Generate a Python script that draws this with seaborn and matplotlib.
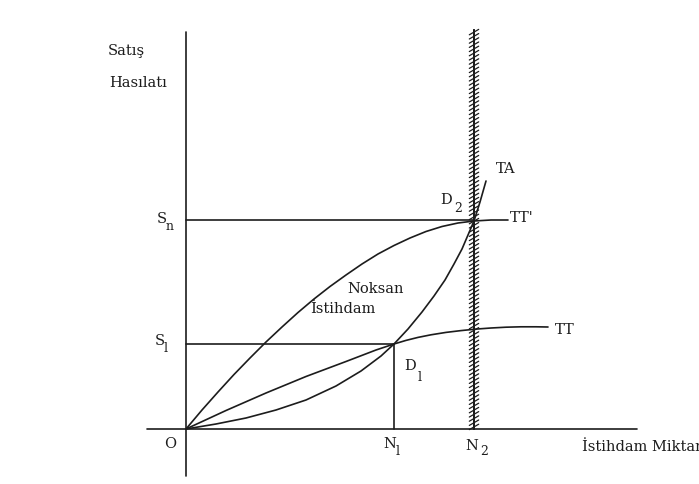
import matplotlib
matplotlib.use("Agg")
import matplotlib.pyplot as plt
import matplotlib.patheffects as pe
import seaborn as sns

# Diagram values (units: px from origin O)
n1, n2 = 208, 288          # N1, N2 employment levels
s1, sn = 85, 209           # S1, Sn revenue levels

# upper curve ending at TT'
tt2_x = [0, 16, 32, 48, 64, 80, 96, 112, 128, 144, 160, 176, 192, 208, 224, 240,
         256, 272, 288, 305, 322]
tt2_y = [0, 19, 37, 54.5, 71, 87, 102, 116.5, 130, 142.5, 154, 165, 175, 183.5,
         191, 197.5, 202.5, 206, 208, 209, 209]

# TT curve (through D1, flattening out)
tt_x = [0, 40, 80, 120, 160, 190, 208, 220, 232, 245, 260, 275, 290, 305, 320,
        335, 350, 362]
tt_y = [0, 18.5, 36, 52.5, 67.5, 79, 85, 88.6, 91.6, 94.2, 96.6, 98.4, 99.9,
        101, 101.8, 102.2, 102.2, 102]

# TA curve (convex, through D1 and D2)
ta_x = [0, 30, 60, 90, 120, 150, 175, 195, 208, 222, 236, 248, 259, 268, 276,
        282, 288, 294, 300]
ta_y = [0, 5, 11, 19, 29, 43, 58, 73, 85, 100, 117, 133, 149, 165, 180, 194,
        208, 227, 248]

ink = "#1c1c1c"

sns.set_theme(style="white")
plt.rcParams["font.family"] = ["DejaVu Serif", "DejaVu Sans"]

fig = plt.figure(figsize=(6.99, 4.85), dpi=100)
ax = fig.add_axes([0, 0, 1, 1])
ax.set_xlim(-186, 513)
ax.set_ylim(-55, 430)
ax.axis("off")


def line(xs, ys, lw=1.2, **kw):
    sns.lineplot(x=xs, y=ys, ax=ax, color=ink, lw=lw, sort=False,
                 estimator=None, legend=False, **kw)


# axes
line([0, 0], [-47, 397])
line([-39, 451], [0, 0])

# curves
line(tt2_x, tt2_y)
line(tt_x, tt_y)
line(ta_x, ta_y)

# guide lines
line([0, n1], [s1, s1])
line([n1, n1], [0, s1])
line([0, n2], [sn, sn])

# hatched full-employment line at N2
ax.plot([n2, n2], [399, 0], color=ink, lw=1.3,
        path_effects=[pe.withTickedStroke(spacing=3.0, angle=120, length=1.3, linewidth=0.9),
                      pe.withTickedStroke(spacing=3.0, angle=-60, length=1.3, linewidth=0.9),
                      pe.Normal()])

fs = 10.5
sub = 9
txt = dict(color=ink, fontsize=fs, va="center")
ax.text(-78, 379, "Satış", ha="left", **txt)
ax.text(-77, 347, "Hasılatı", ha="left", **txt)
ax.text(-24, 211, "S", ha="center", **txt)
ax.text(-16, 204, "n", ha="center", color=ink, fontsize=sub, va="center")
ax.text(-26, 89, "S", ha="center", **txt)
ax.text(-20, 81, "l", ha="center", color=ink, fontsize=sub, va="center")
ax.text(-16, -14, "O", ha="center", **txt)
ax.text(204, -14, "N", ha="center", **txt)
ax.text(212, -22, "l", ha="center", color=ink, fontsize=sub, va="center")
ax.text(286, -16, "N", ha="center", **txt)
ax.text(298, -22, "2", ha="center", color=ink, fontsize=sub, va="center")
ax.text(396, -17, "İstihdam Miktarı", ha="left", clip_on=False, **txt)
ax.text(224, 64, "D", ha="center", **txt)
ax.text(234, 52, "l", ha="center", color=ink, fontsize=sub, va="center")
ax.text(260, 230, "D", ha="center", **txt)
ax.text(272, 222, "2", ha="center", color=ink, fontsize=sub, va="center")
ax.text(320, 261, "TA", ha="center", **txt)
ax.text(324, 212, "TT'", ha="left", **txt)
ax.text(369, 100, "TT", ha="left", **txt)
ax.text(161, 141, "Noksan", ha="left", **txt)
ax.text(124, 121, "İstihdam", ha="left", **txt)

fig.savefig("out.png", dpi=100, facecolor="white")
